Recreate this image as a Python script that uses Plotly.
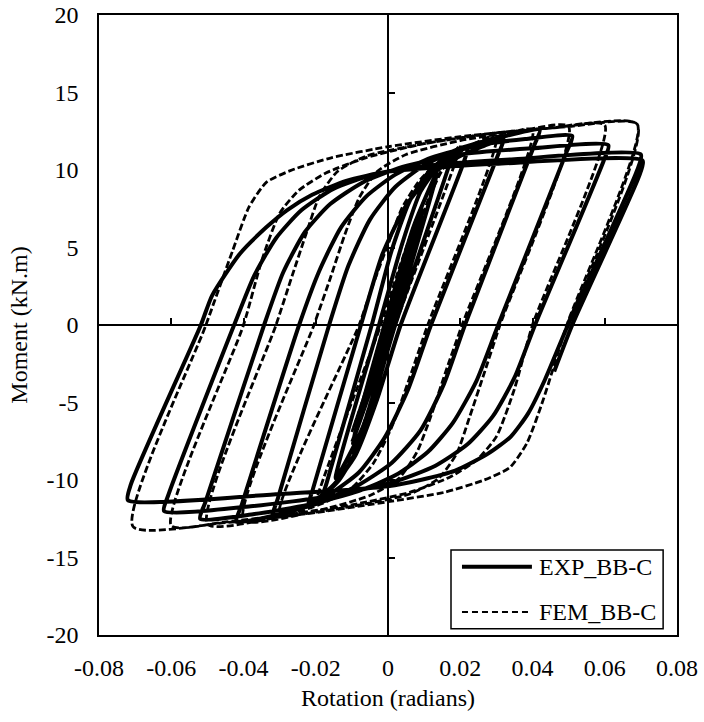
import plotly.graph_objects as go

# ---------------- data ----------------
X_RANGE = [-0.08, 0.08]
Y_RANGE = [-20, 20]
X_TICKS = [-0.08, -0.06, -0.04, -0.02, 0, 0.02, 0.04, 0.06, 0.08]
X_LABELS = ["-0.08", "-0.06", "-0.04", "-0.02", "0", "0.02", "0.04", "0.06", "0.08"]
Y_TICKS = [-20, -15, -10, -5, 0, 5, 10, 15, 20]
Y_LABELS = ["-20", "-15", "-10", "-5", "0", "5", "10", "15", "20"]

SERIES_NAMES = ["EXP_BB-C", "FEM_BB-C"]

# Experimental hysteresis path: (rotation [rad], moment [kN.m])
EXP_POINTS = [
    (0, 0), (0.0045, 3.5), (0.0005, 0), (-0.0045, -3.6), (-0.0005, 0), (0.0065, 5.2), (0.001, 0),
    (-0.0068, -5.5), (-0.0008, 0), (0.0095, 7.4), (0.0012, 0), (-0.0100, -7.6),
    (-0.0010, 0), (0.007, 6.3), (0.0135, 9.8),
    (0.0015, 0), (-0.007, -6.6), (-0.0145, -9.9),
    (-0.0025, 0), (0.004, 5.3), (0.009, 8.6), (0.0135, 10.1), (0.0175, 10.8),
    (0.0165, 10.0), (0.002, 0), (-0.004, -4.8), (-0.009, -8.2), (-0.0135, -10.0), (-0.018, -11.0),
    (-0.017, -10.2), (-0.0045, 0), (0.001, 4.8), (0.006, 8.0), (0.011, 9.8), (0.016, 10.8), (0.022, 11.4),
    (0.0208, 10.4), (0.0035, 0), (-0.003, -4.8), (-0.009, -8.4), (-0.015, -10.3), (-0.022, -11.6),
    (-0.0208, -10.6), (-0.0075, 0), (-0.0015, 4.6), (0.005, 7.7), (0.012, 9.7), (0.020, 10.9), (0.026, 11.5), (0.032, 12.0),
    (0.0305, 11.0), (0.0119, 0), (0.0055, -4.2), (-0.001, -7.3), (-0.008, -9.5), (-0.016, -10.9), (-0.024, -11.8), (-0.032, -12.4),
    (-0.0305, -11.2), (-0.0163, 0), (-0.011, 3.8), (-0.005, 6.8), (0.002, 8.9), (0.010, 10.3), (0.020, 11.4), (0.031, 12.1), (0.042, 12.6),
    (0.0405, 11.6), (0.0213, 0), (0.0155, -3.8), (0.009, -6.8), (0.001, -8.9), (-0.008, -10.3), (-0.018, -11.4), (-0.030, -12.2), (-0.042, -12.7),
    (-0.0405, -11.6), (-0.0246, 0), (-0.019, 3.5), (-0.013, 6.3), (-0.006, 8.3), (0.002, 9.7), (0.012, 10.8), (0.025, 11.6), (0.038, 12.0), (0.051, 12.2),
    (0.0495, 11.2), (0.0305, 0), (0.0245, -3.6), (0.018, -6.3), (0.011, -8.2), (0.002, -9.7), (-0.008, -10.7), (-0.022, -11.6), (-0.037, -12.2), (-0.052, -12.5),
    (-0.0505, -11.4), (-0.0343, 0), (-0.029, 3.4), (-0.023, 6.0), (-0.016, 7.8), (-0.007, 9.2), (0.004, 10.2), (0.020, 11.0), (0.040, 11.4), (0.061, 11.6),
    (0.0597, 10.6), (0.0407, 0), (0.035, -3.4), (0.029, -5.9), (0.022, -7.7), (0.013, -9.1), (0.002, -10.1), (-0.015, -11.0), (-0.038, -11.7), (-0.062, -12.0),
    (-0.0607, -10.9), (-0.0426, 0), (-0.037, 3.2), (-0.031, 5.6), (-0.024, 7.4), (-0.015, 8.8), (-0.004, 9.7), (0.012, 10.3), (0.035, 10.7), (0.070, 11.0),
    (0.069, 10.0), (0.0498, 0), (0.0435, -3.5), (0.0388, -5.7), (0.034, -7.2), (0.0277, -8.3), (0.0186, -9.4), (0.009, -10.0), (0, -10.4), (-0.030, -10.9), (-0.072, -11.3),
    (-0.0712, -10.3), (-0.0518, 0), (-0.0487, 1.9), (-0.041, 4.6), (-0.0337, 6.3), (-0.028, 7.4), (-0.021, 8.4), (-0.0116, 9.3), (0, 9.9), (0.030, 10.4), (0.0705, 10.6),
    (0.0695, 9.6), (0.051, 0), (0.046, -3.0),
]

# Finite-element hysteresis path: (rotation [rad], moment [kN.m])
FEM_POINTS = [
    (0, 0), (0.005, 3.4), (-0.005, -3.4), (0.01, 6.9), (-0.01, -6.9),
    (0.0, 0), (0.006, 4.6), (0.011, 8.0), (0.015, 10.0), (0.02, 11.6),
    (0.002, 0), (-0.004, -4.4), (-0.009, -7.9), (-0.014, -10.0), (-0.02, -11.6),
    (-0.002, 0), (0.003, 3.6), (0.008, 6.9), (0.012, 9.0), (0.017, 10.6), (0.023, 11.6), (0.03, 12.2),
    (0.011, 0), (0.006, -3.4), (0.001, -6.6), (-0.004, -8.9), (-0.010, -10.5), (-0.018, -11.5), (-0.03, -12.2),
    (-0.008, 0), (-0.004, 2.7), (0, 5.2), (0.004, 7.6), (0.009, 9.4), (0.015, 10.7), (0.023, 11.6), (0.031, 12.2), (0.04, 12.6),
    (0.0205, 0), (0.016, -3.0), (0.012, -5.8), (0.008, -8.2), (0.003, -9.9), (-0.005, -11.0), (-0.02, -12.0), (-0.04, -12.6),
    (-0.0205, 0), (-0.016, 3.0), (-0.012, 5.8), (-0.008, 8.2), (-0.003, 9.9), (0.005, 11.0), (0.02, 11.9), (0.035, 12.45), (0.05, 12.8),
    (0.031, 0), (0.0265, -3.2), (0.0225, -6.0), (0.019, -8.3), (0.014, -9.9), (0.006, -10.9), (-0.01, -11.7), (-0.03, -12.4), (-0.05, -12.85),
    (-0.031, 0), (-0.0265, 3.2), (-0.0225, 6.0), (-0.019, 8.3), (-0.014, 9.9), (-0.006, 10.9), (0.01, 11.7), (0.03, 12.4), (0.045, 12.7), (0.06, 12.9),
    (0.040, 0), (0.0349, -4.2), (0.030, -7.2), (0.0246, -8.7), (0.0172, -9.8), (0.006, -10.8), (-0.01, -11.6), (-0.03, -12.3), (-0.045, -12.7), (-0.06, -12.95),
    (-0.040, 0), (-0.0349, 4.2), (-0.030, 7.2), (-0.0246, 8.7), (-0.0172, 9.8), (-0.006, 10.8), (0.01, 11.7), (0.03, 12.4), (0.05, 12.8), (0.069, 12.95),
    (0.0495, 0), (0.043, -4.8), (0.0385, -7.6), (0.0337, -9.2), (0.0266, -10.0), (0.0155, -10.8), (0, -11.4), (-0.02, -12.1), (-0.045, -12.75), (-0.0706, -13.0),
    (-0.0504, 0), (-0.043, 4.8), (-0.0385, 7.6), (-0.0337, 9.2), (-0.0266, 10.0), (-0.0155, 10.8), (0, 11.5), (0.02, 12.15), (0.045, 12.7), (0.069, 12.95),
    (0.0495, 0),
]

# ---------------- figure ----------------
FONT = "Liberation Serif, Times New Roman, serif"
FS = 24

exp_x = [p[0] for p in EXP_POINTS]
exp_y = [p[1] for p in EXP_POINTS]
fem_x = [p[0] for p in FEM_POINTS]
fem_y = [p[1] for p in FEM_POINTS]

fig = go.Figure()
fig.add_trace(go.Scatter(
    x=exp_x, y=exp_y, mode="lines", name=SERIES_NAMES[0], showlegend=False,
    line=dict(color="black", width=4, shape="spline", smoothing=0.6),
))
fig.add_trace(go.Scatter(
    x=fem_x, y=fem_y, mode="lines", name=SERIES_NAMES[1], showlegend=False,
    line=dict(color="black", width=2.8, dash="7px,3px", shape="spline", smoothing=0.6),
))
# helper (empty) traces that activate the axes crossing at zero
fig.add_trace(go.Scatter(x=[None], y=[None], xaxis="x2", yaxis="y", showlegend=False, hoverinfo="skip"))
fig.add_trace(go.Scatter(x=[None], y=[None], xaxis="x", yaxis="y2", showlegend=False, hoverinfo="skip"))

x_zero_pos = (0 - Y_RANGE[0]) / (Y_RANGE[1] - Y_RANGE[0])
y_zero_pos = (0 - X_RANGE[0]) / (X_RANGE[1] - X_RANGE[0])

axis_common = dict(
    showgrid=False, zeroline=False, showline=True, mirror=True,
    linecolor="black", linewidth=1.5, ticks="", automargin=False,
    tickfont=dict(family=FONT, size=FS, color="black"),
)

fig.update_layout(
    width=704, height=722,
    margin=dict(l=99, r=27, t=15, b=87),
    paper_bgcolor="white", plot_bgcolor="white",
    font=dict(family=FONT, size=FS, color="black"),
    xaxis=dict(
        range=X_RANGE, tickmode="array", tickvals=X_TICKS, ticktext=X_LABELS,
        ticklabelstandoff=10,
        title=dict(text="Rotation (radians)", font=dict(family=FONT, size=FS, color="black"), standoff=10),
        **axis_common,
    ),
    yaxis=dict(
        range=Y_RANGE, tickmode="array", tickvals=Y_TICKS, ticktext=Y_LABELS,
        ticklabelstandoff=14,
        title=dict(text="Moment (kN.m)", font=dict(family=FONT, size=FS, color="black"), standoff=12),
        **axis_common,
    ),
    xaxis2=dict(
        overlaying="x", matches="x", anchor="free", position=x_zero_pos, side="bottom",
        range=X_RANGE, tickmode="array", tickvals=X_TICKS, showticklabels=False,
        ticks="inside", ticklen=6, tickwidth=1.5, tickcolor="black", automargin=False,
        showline=True, linecolor="black", linewidth=1.5, showgrid=False, zeroline=False,
    ),
    yaxis2=dict(
        overlaying="y", matches="y", anchor="free", position=y_zero_pos, side="left",
        range=Y_RANGE, tickmode="array", tickvals=Y_TICKS, showticklabels=False,
        ticks="inside", ticklen=6, tickwidth=1.5, tickcolor="black", automargin=False,
        showline=True, linecolor="black", linewidth=1.5, showgrid=False, zeroline=False,
    ),
    showlegend=False,
)

# ---------------- hand-drawn legend box (paper coordinates) ----------------
LEG_X0, LEG_X1 = 0.609, 0.976
LEG_Y0, LEG_Y1 = 0.010, 0.137
ROW_Y = [0.110, 0.037]
SAMPLE_X0, SAMPLE_X1, TEXT_X = 0.628, 0.749, 0.757

fig.add_shape(type="rect", xref="paper", yref="paper", x0=LEG_X0, x1=LEG_X1, y0=LEG_Y0, y1=LEG_Y1,
              line=dict(color="black", width=1.5), fillcolor="white", layer="above")
fig.add_shape(type="line", xref="paper", yref="paper", x0=SAMPLE_X0, x1=SAMPLE_X1, y0=ROW_Y[0], y1=ROW_Y[0],
              line=dict(color="black", width=4), layer="above")
fig.add_shape(type="line", xref="paper", yref="paper", x0=SAMPLE_X0, x1=SAMPLE_X1, y0=ROW_Y[1], y1=ROW_Y[1],
              line=dict(color="black", width=2, dash="6px,4px"), layer="above")
for name, yy in zip(SERIES_NAMES, ROW_Y):
    fig.add_annotation(xref="paper", yref="paper", x=TEXT_X, y=yy, text=name, showarrow=False,
                       xanchor="left", yanchor="middle", font=dict(family=FONT, size=FS, color="black"))

fig.write_html("out.html")
